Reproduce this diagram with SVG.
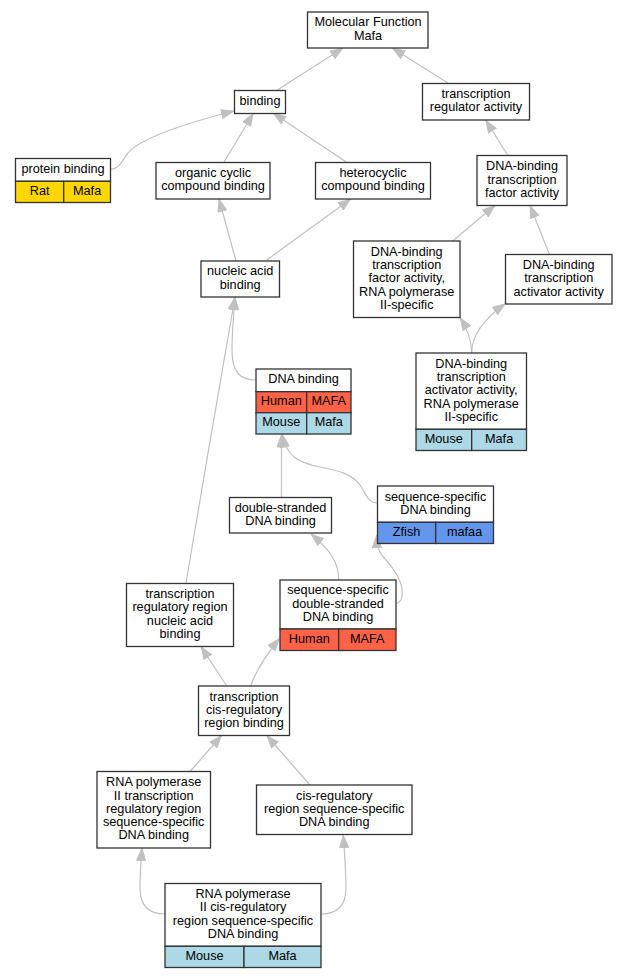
<svg xmlns="http://www.w3.org/2000/svg" width="628" height="979" viewBox="0 0 628 979">
<style>
rect{stroke:#333;stroke-width:1.3}
.w{fill:#fff}
.rat{fill:#ffd700}
.hu{fill:#ff6347}
.mo{fill:#add8e6}
.zf{fill:#6495ed}
text{font-family:"Liberation Sans",Arial,sans-serif;font-size:12.7px;text-anchor:middle;fill:#000}
#edges path{fill:none;stroke:#c0c0c0;stroke-width:1.2;marker-end:url(#arr)}
</style>
<defs>
<marker id="arr" markerUnits="userSpaceOnUse" markerWidth="13" markerHeight="10" viewBox="0 0 13 10" refX="13" refY="5" orient="auto">
<path d="M0.5,0.5 L12.5,5 L0.5,9.5 z" fill="#c0c0c0" stroke="#c0c0c0" stroke-width="1"/>
</marker>
</defs>
<rect x="0" y="0" width="628" height="979" fill="#fff" style="stroke:none"/>
<g id="edges">
<path d="M277.3,90 L343,48"/>
<path d="M448.3,83.3 L392.3,48"/>
<path d="M110.7,169.3 C120,169 122,160 128,153 C140,138 190,122 234,111"/>
<path d="M224,162.3 L253.3,113.3"/>
<path d="M346.7,162.3 L273.3,113.3"/>
<path d="M507.7,155.3 L485.7,120"/>
<path d="M236,261 L219,199"/>
<path d="M266.7,260 L350.7,199"/>
<path d="M452.7,241 L495,205.3"/>
<path d="M549.3,254.3 L530,205.3"/>
<path d="M471.7,353 C471.7,340 468,330 460,317.5"/>
<path d="M471.7,353 C471.7,335 485,318 505.3,303.7"/>
<path d="M256,380 C240,380 232,372 232,350 C232,330 234,312 235,297"/>
<path d="M186,583 C200,500 222,370 235,297"/>
<path d="M281.5,497.5 L281.5,434.5"/>
<path d="M377.5,503 C368,503 366,494 360,485 C352,474 340,471 320,467 C300,463 287,458 282.5,434.5"/>
<path d="M338.7,580 C338.7,562 330,550 311,534"/>
<path d="M396,603 C402,603 403,595 402,588 C400,578 393,568 386,560 C381,555 377,550 376.7,535"/>
<path d="M226.7,686 L201,646.5"/>
<path d="M250.7,686 C255,673 262,660 279.5,638.5"/>
<path d="M190,771.5 L221.7,735.5"/>
<path d="M310,785 L266.7,735.5"/>
<path d="M165,914 C148,914 140,905 140,888 C140,872 141,862 142,848"/>
<path d="M321,914 C338,914 346,905 346,888 C346,872 345,860 343.3,835"/>
</g>
<g id="n1">
<rect class="w" x="307.5" y="12" width="120.5" height="36"/>
<text x="368" y="26.2">Molecular Function</text>
<text x="368" y="39.5">Mafa</text>
</g>
<g id="n2">
<rect class="w" x="234.5" y="90.5" width="51" height="23"/>
<text x="260" y="105.2">binding</text>
</g>
<g id="n3">
<rect class="w" x="422.5" y="83.5" width="107" height="36.5"/>
<text x="476" y="98.1">transcription</text>
<text x="476" y="111.4">regulator activity</text>
</g>
<g id="n4">
<rect class="w" x="15.5" y="158.5" width="95" height="22.8"/>
<rect class="rat" x="15.5" y="181.3" width="48.2" height="21.2"/>
<rect class="rat" x="63.7" y="181.3" width="46.8" height="21.2"/>
<text x="63" y="172.9">protein binding</text>
<text x="39.6" y="194.9">Rat</text>
<text x="87.1" y="194.9">Mafa</text>
</g>
<g id="n5">
<rect class="w" x="156" y="162.5" width="114" height="36.5"/>
<text x="213" y="177.1">organic cyclic</text>
<text x="213" y="190.4">compound binding</text>
</g>
<g id="n6">
<rect class="w" x="315.5" y="162.5" width="115" height="36.5"/>
<text x="373" y="177.1">heterocyclic</text>
<text x="373" y="190.4">compound binding</text>
</g>
<g id="n7">
<rect class="w" x="477" y="155.5" width="90" height="50"/>
<text x="522" y="170.2">DNA-binding</text>
<text x="522" y="183.5">transcription</text>
<text x="522" y="196.8">factor activity</text>
</g>
<g id="n8">
<rect class="w" x="201" y="261" width="78.5" height="36"/>
<text x="240.2" y="275.4">nucleic acid</text>
<text x="240.2" y="288.7">binding</text>
</g>
<g id="n9">
<rect class="w" x="353.5" y="241" width="106.5" height="76.5"/>
<text x="406.7" y="255.7">DNA-binding</text>
<text x="406.7" y="269">transcription</text>
<text x="406.7" y="282.3">factor activity,</text>
<text x="406.7" y="295.6">RNA polymerase</text>
<text x="406.7" y="308.9">II-specific</text>
</g>
<g id="n10">
<rect class="w" x="505.5" y="254.5" width="106.5" height="49.5"/>
<text x="558.7" y="269">DNA-binding</text>
<text x="558.7" y="282.3">transcription</text>
<text x="558.7" y="295.6">activator activity</text>
</g>
<g id="n11">
<rect class="w" x="256" y="369" width="95" height="22.7"/>
<rect class="hu" x="256" y="391.7" width="50.7" height="21"/>
<rect class="hu" x="306.7" y="391.7" width="44.3" height="21"/>
<rect class="mo" x="256" y="412.7" width="50.7" height="21.3"/>
<rect class="mo" x="306.7" y="412.7" width="44.3" height="21.3"/>
<text x="303.5" y="383.4">DNA binding</text>
<text x="281.3" y="405.2">Human</text>
<text x="328.8" y="405.2">MAFA</text>
<text x="281.3" y="426.4">Mouse</text>
<text x="328.8" y="426.4">Mafa</text>
</g>
<g id="n12">
<rect class="w" x="416" y="353" width="110.5" height="76.3"/>
<rect class="mo" x="416" y="429.3" width="55.7" height="21.2"/>
<rect class="mo" x="471.7" y="429.3" width="54.8" height="21.2"/>
<text x="471.2" y="367.6">DNA-binding</text>
<text x="471.2" y="380.9">transcription</text>
<text x="471.2" y="394.2">activator activity,</text>
<text x="471.2" y="407.5">RNA polymerase</text>
<text x="471.2" y="420.8">II-specific</text>
<text x="443.8" y="442.9">Mouse</text>
<text x="499.1" y="442.9">Mafa</text>
</g>
<g id="n13">
<rect class="w" x="229.5" y="497.5" width="102" height="35.5"/>
<text x="280.5" y="511.6">double-stranded</text>
<text x="280.5" y="524.9">DNA binding</text>
</g>
<g id="n14">
<rect class="w" x="377.5" y="486" width="116" height="36.3"/>
<rect class="zf" x="377.5" y="522.3" width="58.2" height="21.2"/>
<rect class="zf" x="435.7" y="522.3" width="57.8" height="21.2"/>
<text x="435.5" y="500.5">sequence-specific</text>
<text x="435.5" y="513.8">DNA binding</text>
<text x="406.6" y="535.9">Zfish</text>
<text x="464.6" y="535.9">mafaa</text>
</g>
<g id="n15">
<rect class="w" x="126.5" y="583.5" width="107" height="63"/>
<text x="180" y="598.1">transcription</text>
<text x="180" y="611.4">regulatory region</text>
<text x="180" y="624.7">nucleic acid</text>
<text x="180" y="638">binding</text>
</g>
<g id="n16">
<rect class="w" x="280" y="580" width="116" height="49"/>
<rect class="hu" x="280" y="629" width="58.7" height="21.5"/>
<rect class="hu" x="338.7" y="629" width="57.3" height="21.5"/>
<text x="338" y="594.2">sequence-specific</text>
<text x="338" y="607.5">double-stranded</text>
<text x="338" y="620.8">DNA binding</text>
<text x="309.3" y="642.8">Human</text>
<text x="367.3" y="642.8">MAFA</text>
</g>
<g id="n17">
<rect class="w" x="198.5" y="686" width="91" height="49.5"/>
<text x="244" y="700.5">transcription</text>
<text x="244" y="713.8">cis-regulatory</text>
<text x="244" y="727.1">region binding</text>
</g>
<g id="n18">
<rect class="w" x="97" y="771.5" width="113.5" height="76.5"/>
<text x="153.7" y="786.2">RNA polymerase</text>
<text x="153.7" y="799.5">II transcription</text>
<text x="153.7" y="812.8">regulatory region</text>
<text x="153.7" y="826.1">sequence-specific</text>
<text x="153.7" y="839.4">DNA binding</text>
</g>
<g id="n19">
<rect class="w" x="256.5" y="785" width="155.5" height="49.5"/>
<text x="334.2" y="799.5">cis-regulatory</text>
<text x="334.2" y="812.8">region sequence-specific</text>
<text x="334.2" y="826.1">DNA binding</text>
</g>
<g id="n20">
<rect class="w" x="165" y="883.5" width="156" height="62.8"/>
<rect class="mo" x="165" y="946.3" width="79" height="21.2"/>
<rect class="mo" x="244" y="946.3" width="77" height="21.2"/>
<text x="243" y="898">RNA polymerase</text>
<text x="243" y="911.3">II cis-regulatory</text>
<text x="243" y="924.6">region sequence-specific</text>
<text x="243" y="937.9">DNA binding</text>
<text x="204.5" y="959.9">Mouse</text>
<text x="282.5" y="959.9">Mafa</text>
</g>
</svg>
